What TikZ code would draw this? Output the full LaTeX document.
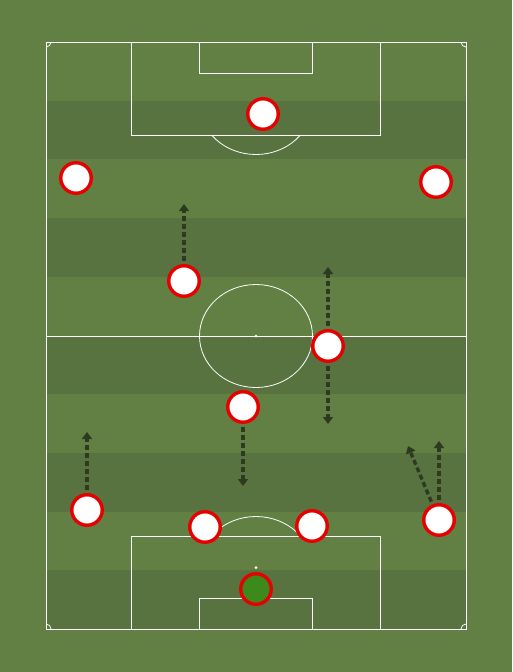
\documentclass[tikz,border=0pt]{standalone}
\usepackage{tikz}
\usetikzlibrary{arrows.meta,shadows}
\definecolor{grass}{RGB}{99,128,68}
\definecolor{stripe}{RGB}{88,114,64}
\definecolor{runline}{RGB}{45,58,32}
\definecolor{shirt}{RGB}{230,0,0}
\definecolor{keeper}{RGB}{60,138,28}

\begin{document}
\begin{tikzpicture}[x=1pt,y=-1pt,
  player/.style={circle,draw=shirt,line width=3.4pt,fill=white,minimum size=30.5pt,inner sep=0pt,
    drop shadow={shadow xshift=1pt,shadow yshift=-1.2pt,opacity=0.3}},
  run/.style={runline,line width=3.4pt,dash pattern=on 5pt off 3pt,shorten <=3pt,-{Triangle[length=7pt,width=10pt]}},
  pitchline/.style={white,line width=0.8pt}]
% Pitch - grass and stripes
\fill[grass] (0,0) rectangle (512,672);
\useasboundingbox (0,0) rectangle (512,672);
\foreach \i in {0,...,4}
  \fill[stripe] (46,{100.7+117.4*\i}) rectangle (466,{159.4+117.4*\i});

% Pitch - markings
\draw[pitchline] (46,42) rectangle (466,629);
\draw[pitchline] (46,336) -- (466,336);
\draw[pitchline] (256,336) ellipse [x radius=56.5pt,y radius=51.5pt];
\fill[white] (256,336) circle (1.5pt);
\draw[pitchline] (131,42) rectangle (380,135);
\draw[pitchline] (199,42) rectangle (312,73);
\draw[pitchline] (131,629) rectangle (380,536);
\draw[pitchline] (199,629) rectangle (312,598);
\fill[white] (256,567.5) circle (1.5pt);
\begin{scope}
\clip (46,135) rectangle (466,336);
\draw[pitchline] (256,103.5) ellipse [x radius=56.5pt,y radius=51pt];
\end{scope}
\begin{scope}
\clip (46,336) rectangle (466,536);
\draw[pitchline] (256,567.5) ellipse [x radius=56.5pt,y radius=51pt];
\end{scope}
\begin{scope}
\clip (46,42) rectangle (466,629);
\foreach \cx/\cy in {46/42,466/42,46/629,466/629}
  \draw[pitchline] (\cx,\cy) circle (5pt);
\end{scope}

% Runs - free ends
\coordinate (t4) at (184,204);
\coordinate (t5a) at (328,267);
\coordinate (t5b) at (328,424);
\coordinate (t6) at (243,486);
\coordinate (t7) at (87,432);
\coordinate (t10a) at (439,441);
\coordinate (t10b) at (408,446);

% Players
\node[player] (p1) at (263,114) {};
\node[player] (p2) at (76,178) {};
\node[player] (p3) at (436,182) {};
\node[player] (p4) at (184,281) {};
\node[player] (p5) at (328,346) {};
\node[player] (p6) at (243,407) {};
\node[player] (p7) at (87,510) {};
\node[player] (p8) at (205,527) {};
\node[player] (p9) at (312,526) {};
\node[player] (p10) at (439,520) {};
\node[player,fill=keeper] (gk) at (256,589) {};

% Runs
\draw[run] (p4) -- (t4);
\draw[run] (p5) -- (t5a);
\draw[run] (p5) -- (t5b);
\draw[run] (p6) -- (t6);
\draw[run] (p7) -- (t7);
\draw[run] (p10) -- (t10a);
\draw[run] (p10) -- (t10b);
\end{tikzpicture}
\end{document}
